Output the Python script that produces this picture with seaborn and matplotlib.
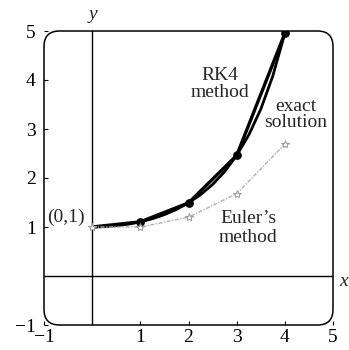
import numpy as np
import pandas as pd
import matplotlib
matplotlib.use("Agg")
import matplotlib.pyplot as plt
from matplotlib.patches import FancyBboxPatch
import seaborn as sns

# ---- data ----
step_x = [0, 1, 2, 3, 4]
rk4_y = [1.0, 1.105, 1.492, 2.46, 4.95]
euler_y = [1.0, 1.0, 1.2, 1.68, 2.69]
exact_x = [0, 0.25, 0.5, 0.75, 1.0, 1.25, 1.5, 1.75, 2.0, 2.25, 2.5, 2.75,
           3.0, 3.25, 3.5, 3.75, 4.0]
exact_y = [1.0, 1.006, 1.025, 1.058, 1.105, 1.169, 1.252, 1.359, 1.492, 1.659,
           1.868, 2.130, 2.460, 2.876, 3.403, 4.081, 4.953]
xticks = [-1, 1, 2, 3, 4, 5]
yticks = [-1, 1, 2, 3, 4, 5]

sns.set_theme(style="white")
plt.rcParams['font.family'] = ['Liberation Serif', 'DejaVu Serif']

fig = plt.figure(figsize=(3.49, 3.50), dpi=100)
ax = fig.add_axes([44/349, 25/350, 289/349, 294/350])
ax.set_xlim(-1, 5)
ax.set_ylim(-1, 5)
for s in ax.spines.values():
    s.set_visible(False)

# rounded frame
frame = FancyBboxPatch((-1, -1), 6, 6, boxstyle="round,pad=0,rounding_size=0.32",
                       fill=False, edgecolor='black', linewidth=1.1, zorder=1,
                       clip_on=False)
ax.add_patch(frame)
# coordinate axes
ax.axhline(0, color='black', linewidth=1.0, zorder=1)
ax.axvline(0, color='black', linewidth=1.0, zorder=1)

df_euler = pd.DataFrame({'x': step_x, 'y': euler_y})
df_rk4 = pd.DataFrame({'x': step_x, 'y': rk4_y})
df_exact = pd.DataFrame({'x': exact_x, 'y': exact_y})

sns.lineplot(data=df_exact, x='x', y='y', ax=ax, color='black', linewidth=2.0,
             estimator=None, sort=False, zorder=3)
sns.lineplot(data=df_rk4, x='x', y='y', ax=ax, color='black', linewidth=2.4,
             marker='o', markersize=5.5, markeredgecolor='black',
             markevery=[1, 2, 3, 4], estimator=None, sort=False, zorder=4)
sns.lineplot(data=df_euler, x='x', y='y', ax=ax, color='#b0b0b0', linewidth=1.0,
             linestyle=(0, (3, 1, 1, 1)), marker='*', markersize=6,
             markerfacecolor='white', markeredgecolor='#a0a0a0',
             markeredgewidth=0.8, estimator=None, sort=False, zorder=5)

ax.set_xticks(xticks)
ax.set_yticks(yticks)
ax.set_xticklabels(['\u22121' if v < 0 else str(v) for v in xticks])
ax.set_yticklabels(['\u22121' if v < 0 else str(v) for v in yticks])
ax.tick_params(axis='both', direction='in', length=3, width=0.8,
               labelsize=14, colors='black', bottom=True, left=True)
ax.tick_params(axis='x', pad=3)
ax.tick_params(axis='y', pad=6)
ax.set_xlabel('')
ax.set_ylabel('')

fs = 14
ls = 0.95
ax.text(2.66, 3.92, 'RK4\nmethod', ha='center', va='center', fontsize=fs,
        linespacing=ls)
ax.text(4.23, 3.30, 'exact\nsolution', ha='center', va='center', fontsize=fs,
        linespacing=ls)
ax.text(3.24, 0.97, 'Euler\u2019s\nmethod', ha='center', va='center',
        fontsize=fs, linespacing=1.15)
ax.text(-0.55, 1.19, '(0,1)', ha='center', va='center', fontsize=fs)
ax.text(0.02, 5.33, 'y', ha='center', va='center', fontsize=fs, style='italic',
        clip_on=False)
ax.text(5.21, -0.12, 'x', ha='center', va='center', fontsize=fs, style='italic',
        clip_on=False)

fig.savefig('out.png', dpi=100)
